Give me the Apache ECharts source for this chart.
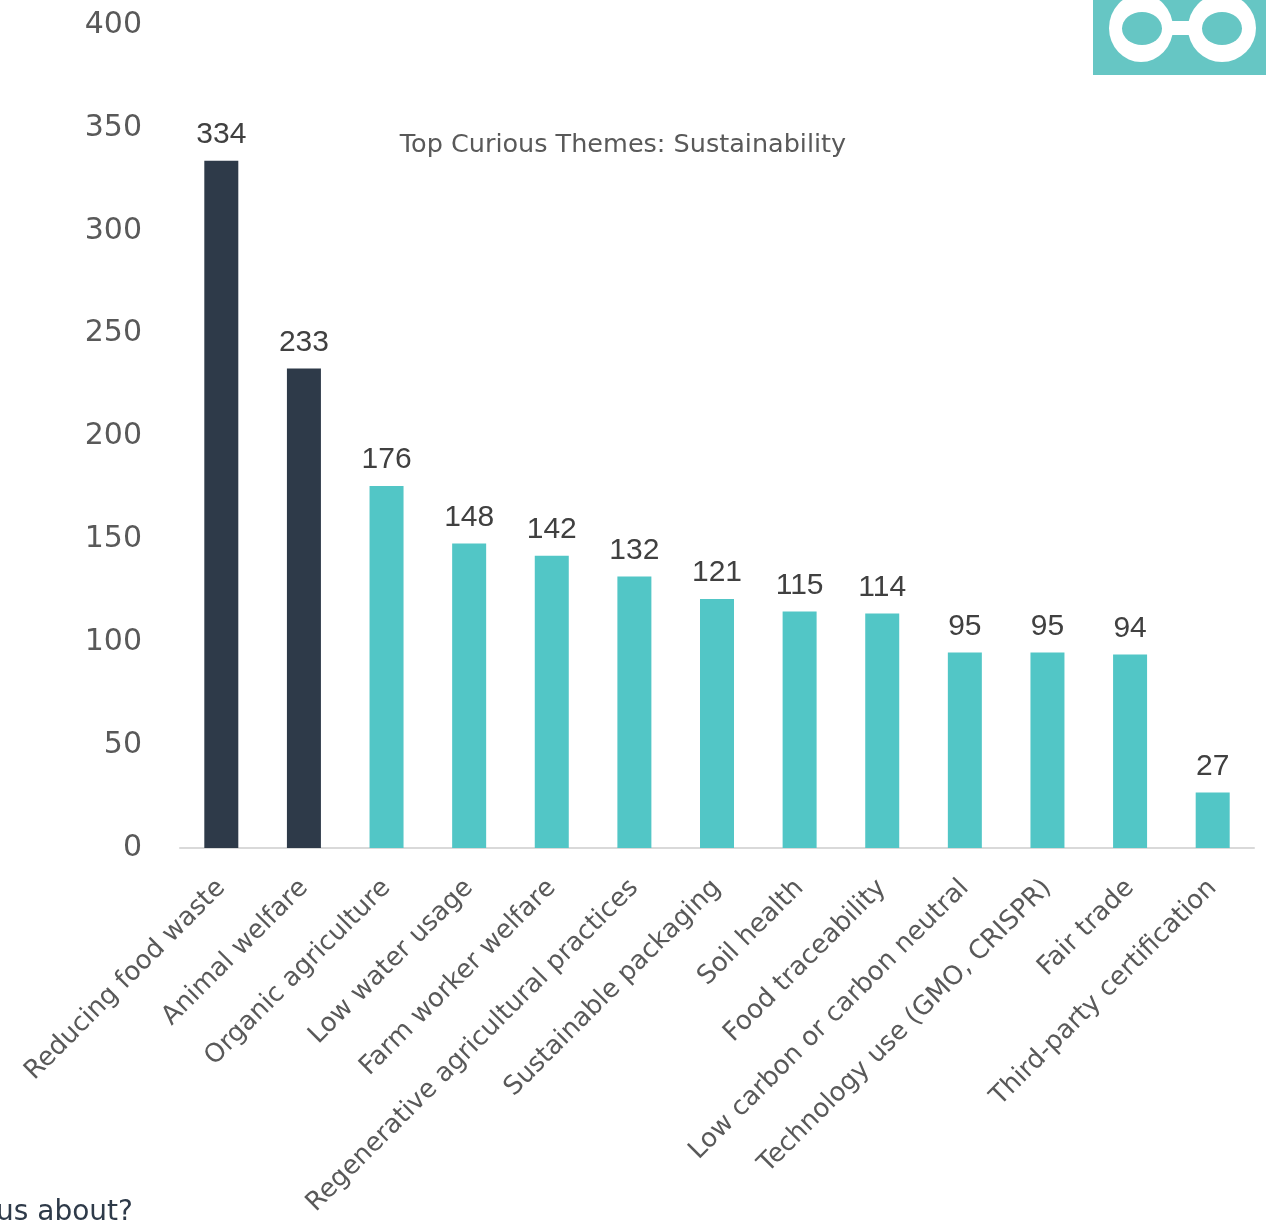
<!DOCTYPE html>
<html>
<head>
<meta charset="utf-8">
<script src="https://cdn.jsdelivr.net/npm/echarts@6/dist/echarts.min.js"></script>
<style>
  html, body { margin: 0; padding: 0; background: #ffffff; }
  #chart { width: 1266px; height: 1227px; }
</style>
</head>
<body>
<div id="chart"></div>
<script>
// Themes consumers are curious about, with mention counts
const categories = [
  'Reducing food waste', 'Animal welfare', 'Organic agriculture', 'Low water usage',
  'Farm worker welfare', 'Regenerative agricultural practices', 'Sustainable packaging',
  'Soil health', 'Food traceability', 'Low carbon or carbon neutral',
  'Technology use (GMO, CRISPR)', 'Fair trade', 'Third-party certification'
];
const counts = [334, 233, 176, 148, 142, 132, 121, 115, 114, 95, 95, 94, 27];
// The two leading themes are highlighted in a dark tone
const highlighted = [true, true, false, false, false, false, false, false, false, false, false, false, false];
const yTicks = { min: 0, max: 400, interval: 50 };

const DARK = '#2e3a49';
const TEAL = '#52c6c6';
const BADGE = '#66c6c4';
const UI_FONT = '"DejaVu Sans", "Open Sans", sans-serif';

const chart = echarts.init(document.getElementById('chart'));

chart.setOption({
  animation: false,
  backgroundColor: '#ffffff',
  grid: { left: 180, right: 12, top: 25, bottom: 379, containLabel: false },
  title: {
    text: 'Top Curious Themes: Sustainability',
    left: 618, top: 127, textAlign: 'center',
    textStyle: { fontFamily: UI_FONT, fontSize: 25.5, fontWeight: 'normal', color: '#595959' }
  },
  xAxis: {
    type: 'category',
    data: categories,
    axisLine: { lineStyle: { color: '#d9d9d9', width: 2 } },
    axisTick: { show: false },
    axisLabel: {
      rotate: 45, interval: 0, margin: 36,
      fontFamily: UI_FONT, fontSize: 26, color: '#595959'
    }
  },
  yAxis: {
    type: 'value',
    min: yTicks.min, max: yTicks.max, interval: yTicks.interval,
    axisLine: { show: false },
    axisTick: { show: false },
    splitLine: { show: false },
    axisLabel: {
      margin: 38,
      fontFamily: '"DejaVu Sans", sans-serif', fontSize: 30, color: '#595959'
    }
  },
  series: [{
    type: 'bar',
    barWidth: 34,
    data: counts.map((v, i) => ({
      value: v,
      itemStyle: { color: highlighted[i] ? DARK : TEAL }
    })),
    label: {
      show: true, position: 'top', distance: 11,
      fontFamily: '"Liberation Sans", Arial, sans-serif', fontSize: 30, color: '#404040'
    }
  }],
  graphic: [
    // Brand badge in the top-right corner: a pair of glasses
    { type: 'rect', shape: { x: 1093, y: 0, width: 173, height: 75 }, style: { fill: BADGE }, z: 10 },
    { type: 'circle', x: 1141, y: 28, scaleX: 32 / 34, shape: { cx: 0, cy: 0, r: 34 }, style: { fill: '#ffffff' }, z: 11 },
    { type: 'circle', x: 1142, y: 28.5, scaleY: 16.5 / 20, shape: { cx: 0, cy: 0, r: 20 }, style: { fill: BADGE }, z: 12 },
    { type: 'circle', x: 1222, y: 28, shape: { cx: 0, cy: 0, r: 34 }, style: { fill: '#ffffff' }, z: 11 },
    { type: 'circle', x: 1222, y: 28.5, scaleY: 16.5 / 20, shape: { cx: 0, cy: 0, r: 20 }, style: { fill: BADGE }, z: 12 },
    { type: 'rect', shape: { x: 1162, y: 21, width: 30, height: 14 }, style: { fill: '#ffffff' }, z: 13 },
    // Trailing caption text at the bottom-left
    {
      type: 'text', x: -4, y: 1227,
      style: { text: 'us about?', font: '28px "DejaVu Sans", sans-serif', fill: '#2e3a49', textVerticalAlign: 'bottom', textBaseline: 'alphabetic' }
    }
  ]
});
</script>
</body>
</html>
